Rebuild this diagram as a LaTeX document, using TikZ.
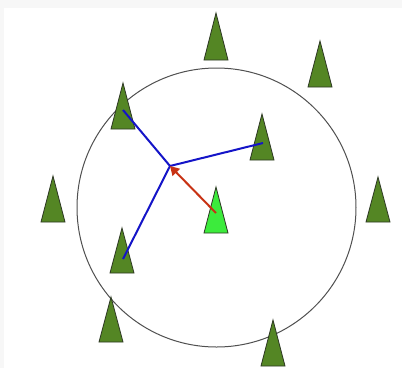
\documentclass[tikz,border=0pt]{standalone}
\usetikzlibrary{arrows.meta}
\definecolor{treegreen}{RGB}{84,134,36}
\definecolor{litegreen}{RGB}{60,235,60}
\definecolor{bluel}{RGB}{20,20,200}
\definecolor{redl}{RGB}{200,50,20}
\tikzset{
  treeshape/.style={draw={rgb,255:red,45;green,55;blue,35}, line width=0.8pt, fill=treegreen, line join=miter},
  litetree/.style={treeshape, fill=litegreen},
  bluelink/.style={draw=bluel, line width=2pt},
  redlink/.style={draw=redl, line width=2pt, -{Triangle[length=9pt,width=10pt]}},
  ring/.style={draw={rgb,255:red,80;green,80;blue,80}, line width=1pt}
}
\newcommand\drawtree[4][treeshape]{\path[#1] (#2,#3) -- (#2-12,#4) -- (#2+12,#4) -- cycle;}
\begin{document}
\begin{tikzpicture}[x=1pt,y=-1pt]
\useasboundingbox (0,0) rectangle (402,368);
\fill[gray!6] (0,0) rectangle (402,368);
\fill[white] (4,8) rectangle (402,368);
\draw[ring] (216.5,207.5) circle (139.5);
% trees
\drawtree{216}{13}{60}
\drawtree{320}{41}{87}
\drawtree{123}{83}{129}
\drawtree{262}{114}{160}
\drawtree{53}{176}{222}
\drawtree[litetree]{216}{187}{233}
\drawtree{378}{177}{222}
\drawtree{122}{228}{273}
\drawtree{111}{297}{342}
\drawtree{273}{320}{366}
% link points
\coordinate (c) at (170,166);
\coordinate (a) at (123,110);
\coordinate (b) at (263,143);
\coordinate (d) at (123,259);
\coordinate (s) at (216,213);
\draw[bluelink] (a) -- (c) -- (b);
\draw[bluelink] (c) -- (d);
\draw[redlink] (s) -- (c);
\end{tikzpicture}
\end{document}
